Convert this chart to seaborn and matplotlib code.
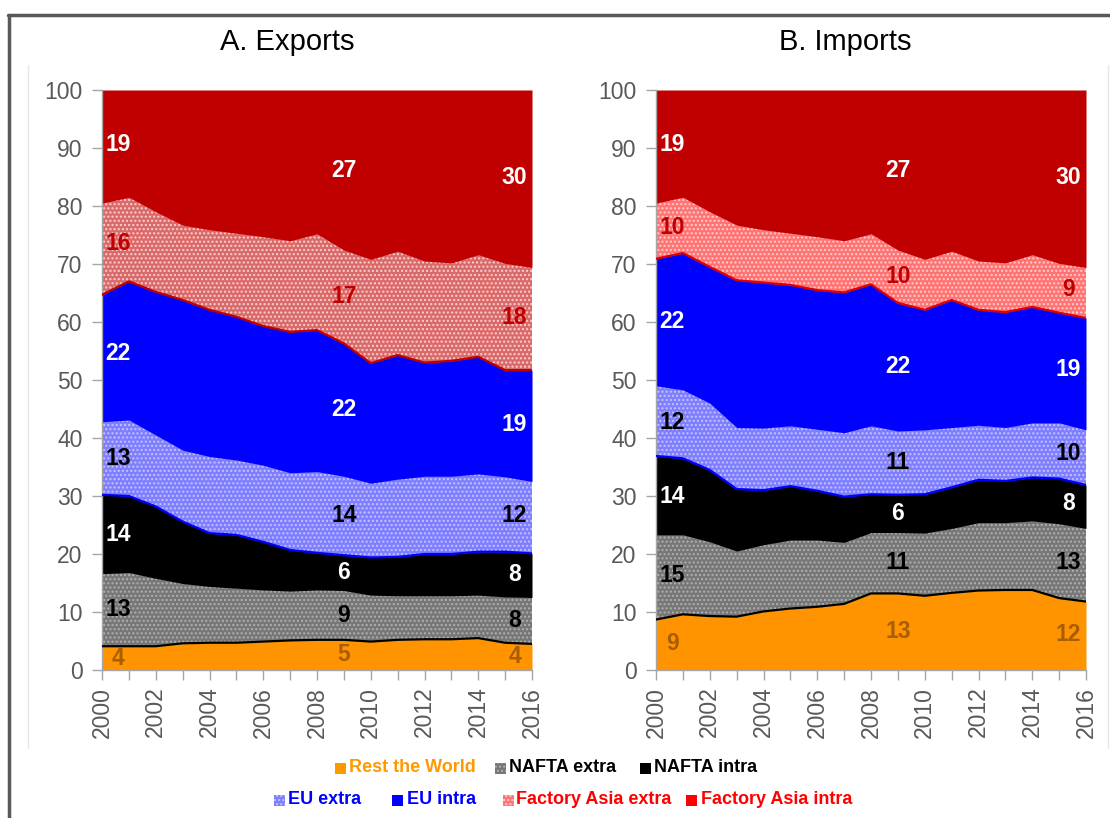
import numpy as np
import matplotlib
matplotlib.use("Agg")
import matplotlib.pyplot as plt
import seaborn as sns
from matplotlib import font_manager as fm
from matplotlib.lines import Line2D
from matplotlib.patches import Rectangle

# ---------------- data ----------------
years = list(range(2000, 2017))
series_names = ["Rest the World", "NAFTA extra", "NAFTA intra", "EU extra",
                "EU intra", "Factory Asia extra", "Factory Asia intra"]

# A. Exports (shares, %)
exp_row = [4.1, 4.1, 4.1, 4.6, 4.7, 4.7, 4.9, 5.1, 5.2, 5.2, 4.9, 5.2, 5.3, 5.3, 5.5, 4.7, 4.5]
exp_nafta_extra = [12.5, 12.7, 11.7, 10.3, 9.7, 9.4, 8.9, 8.5, 8.6, 8.5, 8.0, 7.6, 7.5, 7.5, 7.4, 7.9, 8.0]
exp_nafta_intra = [13.6, 13.2, 12.4, 10.7, 9.2, 9.2, 8.3, 7.1, 6.4, 6.1, 6.5, 6.7, 7.2, 7.2, 7.5, 7.8, 7.6]
exp_eu_extra = [12.6, 13.1, 12.3, 12.3, 13.2, 12.9, 13.2, 13.3, 14.0, 13.6, 12.8, 13.4, 13.4, 13.4, 13.4, 12.9, 12.4]
exp_eu_intra = [21.9, 23.9, 24.7, 25.9, 25.3, 24.7, 24.0, 24.3, 24.4, 22.9, 20.7, 21.4, 19.6, 19.9, 20.2, 18.4, 19.2]
exp_fa_extra = [15.8, 14.5, 13.8, 12.9, 13.8, 14.4, 15.4, 15.7, 16.6, 16.1, 17.9, 17.9, 17.5, 16.9, 17.6, 18.4, 17.7]
exp_fa_intra = [19.5, 18.5, 21.0, 23.3, 24.1, 24.7, 25.3, 26.0, 24.8, 27.6, 29.2, 27.8, 29.5, 29.8, 28.4, 29.9, 30.6]

# B. Imports (shares, %)
imp_row = [8.7, 9.6, 9.3, 9.2, 10.1, 10.6, 10.9, 11.4, 13.2, 13.2, 12.8, 13.3, 13.7, 13.8, 13.8, 12.4, 11.8]
imp_nafta_extra = [14.6, 13.7, 12.8, 11.3, 11.5, 11.8, 11.5, 10.6, 10.5, 10.5, 10.8, 11.1, 11.7, 11.6, 11.9, 12.8, 12.6]
imp_nafta_intra = [13.6, 13.2, 12.4, 10.7, 9.4, 9.3, 8.5, 7.9, 6.6, 6.5, 6.7, 7.1, 7.4, 7.2, 7.5, 7.8, 7.5]
imp_eu_extra = [12.1, 11.8, 11.5, 10.6, 10.7, 10.4, 10.6, 11.0, 11.8, 11.0, 11.1, 10.3, 9.4, 9.2, 9.4, 9.6, 9.5]
imp_eu_intra = [21.9, 23.6, 23.5, 25.4, 25.1, 24.3, 24.0, 24.2, 24.4, 22.1, 20.7, 22.0, 19.9, 19.9, 20.0, 19.0, 19.3]
imp_fa_extra = [9.6, 9.6, 9.5, 9.5, 9.1, 8.9, 9.2, 8.9, 8.7, 9.1, 8.7, 8.4, 8.4, 8.5, 9.0, 8.5, 8.7]
imp_fa_intra = [19.5, 18.5, 21.0, 23.3, 24.1, 24.7, 25.3, 26.0, 24.8, 27.6, 29.2, 27.8, 29.5, 29.8, 28.4, 29.9, 30.6]

# in-chart value labels (start, 2009, end) per series
exp_labels = [["4", "5", "4"], ["13", "9", "8"], ["14", "6", "8"], ["13", "14", "12"],
              ["22", "22", "19"], ["16", "17", "18"], ["19", "27", "30"]]
imp_labels = [["9", "13", "12"], ["15", "11", "13"], ["14", "6", "8"], ["12", "11", "10"],
              ["22", "22", "19"], ["10", "10", "9"], ["19", "27", "30"]]

panel_titles = ["A. Exports", "B. Imports"]

# ---------------- style ----------------
sns.set_theme(style="white")
names = {f.name for f in fm.fontManager.ttflist}
HAS_NARROW = "Liberation Sans Narrow" in names
NARROW = "Liberation Sans Narrow" if HAS_NARROW else "Liberation Sans"
plt.rcParams["font.family"] = [NARROW, "DejaVu Sans"]
plt.rcParams["hatch.linewidth"] = 1.0

TICK_FS = 18 if HAS_NARROW else 16.5
LAB_FS = 18 if HAS_NARROW else 16.5
LEG_FS = 14 if HAS_NARROW else 13

fill_colors = ["#FF9400", "#777777", "#000000", "#7E7EFF", "#0000FF", None, "#C00000"]
fa_extra_fill = ["#D96A6A", "#FF7373"]
hatch_colors = {1: "#B0B0B0", 3: "#C4C4FF", 5: "#FFCFCF"}
outline_colors = {1: "#000000", 3: "#0000FF", 5: None}
fa_outline = ["#C00000", "#E00000"]
label_colors = ["#A85E00", "#000000", "#FFFFFF", "#000000", "#FFFFFF", "#C00000", "#FFFFFF"]
label_x = [2000.6, 2009.0, 2015.35]

W, H = 1110, 818
fig = plt.figure(figsize=(W / 100, H / 100), dpi=100)
axL = fig.add_axes([102 / W, 1 - 670 / H, 430 / W, 580 / H])
axR = fig.add_axes([656 / W, 1 - 670 / H, 430 / W, 580 / H])

panels = [
    (axL, [exp_row, exp_nafta_extra, exp_nafta_intra, exp_eu_extra, exp_eu_intra, exp_fa_extra, exp_fa_intra], exp_labels),
    (axR, [imp_row, imp_nafta_extra, imp_nafta_intra, imp_eu_extra, imp_eu_intra, imp_fa_extra, imp_fa_intra], imp_labels),
]

for k, (ax, layers, labels) in enumerate(panels):
    layers = np.array(layers, dtype=float)
    cols = list(fill_colors)
    cols[5] = fa_extra_fill[k]
    polys = ax.stackplot(years, *layers, colors=cols, linewidth=0)
    for i, p in enumerate(polys):
        if i in hatch_colors:
            p.set_hatch("....")
            p.set_edgecolor(hatch_colors[i])
            p.set_linewidth(0)
    cum = np.cumsum(layers, axis=0)
    bottoms = np.vstack([np.zeros(len(years)), cum[:-1]])
    for i in (1, 3, 5):
        oc = outline_colors[i] if outline_colors[i] else fa_outline[k]
        sns.lineplot(x=years, y=bottoms[i], ax=ax, color=oc, lw=1.6, zorder=3)
    # value labels
    for i in range(len(series_names)):
        for j, xx in enumerate(label_x):
            yy = (np.interp(xx, years, bottoms[i]) + np.interp(xx, years, cum[i])) / 2
            ax.text(xx, yy, labels[i][j], ha="center", va="center", color=label_colors[i],
                    fontsize=LAB_FS, fontweight="bold", zorder=5)
    ax.set_xlim(2000, 2016)
    ax.set_ylim(0, 100)
    ax.set_xticks(years)
    ax.set_xticklabels([str(y) if y % 2 == 0 else "" for y in years], rotation=90)
    ax.set_yticks(range(0, 101, 10))
    ax.tick_params(axis="both", which="major", direction="out", length=7, width=1,
                   color="#A6A6A6", labelsize=TICK_FS, labelcolor="#595959", pad=5)
    ax.tick_params(axis="y", pad=7)
    ax.tick_params(left=True, bottom=True)
    for s in ("top", "right"):
        ax.spines[s].set_visible(False)
    for s in ("left", "bottom"):
        ax.spines[s].set_color("#A6A6A6")
        ax.spines[s].set_linewidth(1)
    ax.set_xlabel("")
    ax.set_ylabel("")
    ax.grid(False)

# titles
fig.text(287 / W, 1 - 42 / H, panel_titles[0], ha="center", va="center", fontsize=21,
         family=["Liberation Sans", "DejaVu Sans"], color="#000000")
fig.text(845 / W, 1 - 42 / H, panel_titles[1], ha="center", va="center", fontsize=21,
         family=["Liberation Sans", "DejaVu Sans"], color="#000000")

# legend (manual, two rows)
leg_items = [
    (0, 335, 349, "#FF9900", "#FF9900", None),
    (1, 495, 509, "#000000", "#777777", "#B0B0B0"),
    (2, 640, 654, "#000000", "#000000", None),
    (3, 274, 288, "#0000FF", "#7E7EFF", "#C4C4FF"),
    (4, 392, 407, "#0000FF", "#0000FF", None),
    (5, 503, 516, "#FF0000", "#FF7373", "#FFCFCF"),
    (6, 686, 701, "#FF0000", "#FF0000", None),
]
for idx, sx, tx, tcol, scol, hcol in leg_items:
    yc = 768 if idx < 3 else 800
    r = Rectangle((sx / W, 1 - (yc + 5.5) / H), 11 / W, 11 / H, transform=fig.transFigure,
                  facecolor=scol, edgecolor=hcol if hcol else scol, lw=0,
                  hatch="...." if hcol else None)
    fig.add_artist(r)
    fig.text(tx / W, 1 - yc / H, series_names[idx], ha="left", va="center", color=tcol,
             fontsize=LEG_FS, fontweight="bold")

# outer frame
fig.add_artist(Line2D([8 / W, 1], [1 - 15 / H, 1 - 15 / H], transform=fig.transFigure,
                      color="#595959", lw=2.5))
fig.add_artist(Line2D([9 / W, 9 / W], [0, 1 - 15 / H], transform=fig.transFigure,
                      color="#595959", lw=2.5))
fig.add_artist(Line2D([28 / W, 28 / W], [1 - 748 / H, 1 - 65 / H], transform=fig.transFigure,
                      color="#E8E8E8", lw=1))
fig.add_artist(Line2D([1108 / W, 1108 / W], [1 - 748 / H, 1 - 65 / H], transform=fig.transFigure,
                      color="#E8E8E8", lw=1))

fig.savefig("out.png", dpi=100)
